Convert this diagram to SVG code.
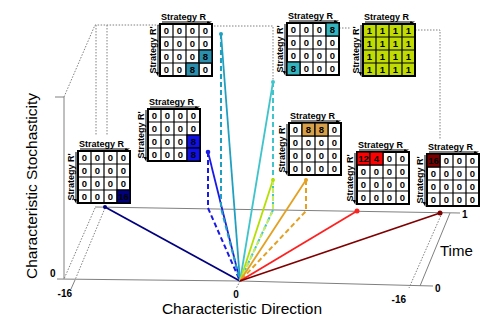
<svg xmlns="http://www.w3.org/2000/svg" xmlns:xlink="http://www.w3.org/1999/xlink" width="498" height="322" viewBox="0 0 498 322">
<style>
.ax{stroke:#808080;stroke-width:1;fill:none}
.dot{stroke:#808080;stroke-width:1;fill:none;stroke-dasharray:1.5,1.5}
.ln{fill:none;stroke-width:1.8}
.ds{fill:none;stroke-width:2;stroke-dasharray:5,3}
.big{font-family:"Liberation Sans",Arial,sans-serif;font-size:15.5px;fill:#000}
.num{font-family:"Liberation Sans",Arial,sans-serif;font-size:10px;font-weight:bold;fill:#000}
.lbl{font-family:"Liberation Sans",Arial,sans-serif;font-size:9px;font-weight:bold;fill:#000}
.c{font-family:"Liberation Sans",Arial,sans-serif;font-size:9.5px;font-weight:bold;fill:#000;text-anchor:middle}
.cell{stroke:#000;stroke-width:1.2}
</style>
<defs>
<g id="mx">
<path d="M2,-2H49" stroke="#000" stroke-width="1"/>
<polygon points="47,-2.5 52,-2.5 47,0.5" fill="#000"/>
<path d="M-2,1V50" stroke="#000" stroke-width="1"/>
<polygon points="-1.5,48 -1.5,53 -4.5,48" fill="#000"/>
<rect x="0" y="0" width="52" height="52" fill="#fff"/>
<path d="M13,0V52M26,0V52M39,0V52M0,13H52M0,26H52M0,39H52" stroke="#000" stroke-width="1.2"/>
<rect x="0" y="0" width="52" height="52" fill="none" stroke="#000" stroke-width="2"/>
</g>
</defs>

<g id="axes">
<path class="ax" d="M55,97H64V279M57,279L240,281L433,286M95,207L460,213M450,213L420,286M75,280L71,289"/>
<path class="dot" d="M64,97L95,25H211M211,26H273V81M339,28H350M415,30H440V139M96,25V136M107,25V136M95,208L64,279M105,208L75,280M442,213L409,288M240,281L236,289"/>
</g>

<g id="connectors">
<path class="ln" stroke="#000080" d="M240,281L105,207"/>
<path class="ln" stroke="#1a1ae6" d="M240,281L208,152"/>
<path class="ds" stroke="#1a1ae6" d="M208,152V208L240,281"/>
<path class="ln" stroke="#20a0c0" d="M240,281L221,34"/>
<path class="ds" stroke="#20a0c0" d="M221,34V208L240,281"/>
<path class="ln" stroke="#40c4cc" d="M240,281L273,82"/>
<path class="ds" stroke="#40c4cc" d="M273,82V210L240,281"/>
<path class="ln" stroke="#b4e000" d="M240,281L273,180"/>
<path class="ds" stroke="#c4ec60" d="M273,180V210L240,281"/>
<path class="ln" stroke="#e4a020" d="M240,281L306,180"/>
<path class="ds" stroke="#e4a020" d="M306,180V211L240,281"/>
<path class="ln" stroke="#ff2020" d="M240,281L357,211"/>
<path class="ln" stroke="#800000" d="M240,281L440,213"/>
<circle cx="105" cy="207" r="2" fill="#000080"/>
<circle cx="208" cy="152" r="2.3" fill="#1a1ae6"/>
<circle cx="221" cy="34" r="2" fill="#20a0c0"/>
<circle cx="273" cy="82" r="2" fill="#40c4cc"/>
<circle cx="273" cy="180" r="2" fill="#b4e000"/>
<circle cx="306" cy="180" r="2" fill="#e4a020"/>
<circle cx="357" cy="211" r="2.5" fill="#ff2020"/>
<circle cx="440" cy="213" r="2.5" fill="#800000"/>
</g>

<g id="m1" transform="translate(78,151)">
<use xlink:href="#mx"/>
<text class="lbl" x="1" y="-4">Strategy R</text>
<text class="lbl" transform="translate(-4,26) rotate(-90)" text-anchor="middle">Strategy R'</text>
<rect class="cell" x="39" y="39" width="13" height="13" fill="#000080"/>
<text class="c" x="6.5" y="10">0</text><text class="c" x="19.5" y="10">0</text><text class="c" x="32.5" y="10">0</text><text class="c" x="45.5" y="10">0</text>
<text class="c" x="6.5" y="23">0</text><text class="c" x="19.5" y="23">0</text><text class="c" x="32.5" y="23">0</text><text class="c" x="45.5" y="23">0</text>
<text class="c" x="6.5" y="36">0</text><text class="c" x="19.5" y="36">0</text><text class="c" x="32.5" y="36">0</text><text class="c" x="45.5" y="36">0</text>
<text class="c" x="6.5" y="49">0</text><text class="c" x="19.5" y="49">0</text><text class="c" x="32.5" y="49">0</text><text class="c" x="45.5" y="49" fill="#2020a0">16</text>
</g>

<g id="m2" transform="translate(148,109)">
<use xlink:href="#mx"/>
<text class="lbl" x="1" y="-4">Strategy R</text>
<text class="lbl" transform="translate(-4,26) rotate(-90)" text-anchor="middle">Strategy R'</text>
<rect class="cell" x="39" y="26" width="13" height="13" fill="#1010e8"/>
<rect class="cell" x="39" y="39" width="13" height="13" fill="#1010e8"/>
<text class="c" x="6.5" y="10">0</text><text class="c" x="19.5" y="10">0</text><text class="c" x="32.5" y="10">0</text><text class="c" x="45.5" y="10">0</text>
<text class="c" x="6.5" y="23">0</text><text class="c" x="19.5" y="23">0</text><text class="c" x="32.5" y="23">0</text><text class="c" x="45.5" y="23">0</text>
<text class="c" x="6.5" y="36">0</text><text class="c" x="19.5" y="36">0</text><text class="c" x="32.5" y="36">0</text><text class="c" x="45.5" y="36">8</text>
<text class="c" x="6.5" y="49">0</text><text class="c" x="19.5" y="49">0</text><text class="c" x="32.5" y="49">0</text><text class="c" x="45.5" y="49">8</text>
</g>

<g id="m3" transform="translate(160,24)">
<use xlink:href="#mx"/>
<text class="lbl" x="1" y="-4">Strategy R</text>
<text class="lbl" transform="translate(-4,26) rotate(-90)" text-anchor="middle">Strategy R'</text>
<rect class="cell" x="39" y="26" width="13" height="13" fill="#2b8fae"/>
<rect class="cell" x="26" y="39" width="13" height="13" fill="#2b8fae"/>
<text class="c" x="6.5" y="10">0</text><text class="c" x="19.5" y="10">0</text><text class="c" x="32.5" y="10">0</text><text class="c" x="45.5" y="10">0</text>
<text class="c" x="6.5" y="23">0</text><text class="c" x="19.5" y="23">0</text><text class="c" x="32.5" y="23">0</text><text class="c" x="45.5" y="23">0</text>
<text class="c" x="6.5" y="36">0</text><text class="c" x="19.5" y="36">0</text><text class="c" x="32.5" y="36">0</text><text class="c" x="45.5" y="36">8</text>
<text class="c" x="6.5" y="49">0</text><text class="c" x="19.5" y="49">0</text><text class="c" x="32.5" y="49">8</text><text class="c" x="45.5" y="49">0</text>
</g>

<g id="m4" transform="translate(289,123)">
<use xlink:href="#mx"/>
<text class="lbl" x="1" y="-4">Strategy R</text>
<text class="lbl" transform="translate(-4,26) rotate(-90)" text-anchor="middle">Strategy R'</text>
<rect class="cell" x="13" y="0" width="13" height="13" fill="#d8a048"/>
<rect class="cell" x="26" y="0" width="13" height="13" fill="#d8a048"/>
<text class="c" x="6.5" y="10">0</text><text class="c" x="19.5" y="10">8</text><text class="c" x="32.5" y="10">8</text><text class="c" x="45.5" y="10">0</text>
<text class="c" x="6.5" y="23">0</text><text class="c" x="19.5" y="23">0</text><text class="c" x="32.5" y="23">0</text><text class="c" x="45.5" y="23">0</text>
<text class="c" x="6.5" y="36">0</text><text class="c" x="19.5" y="36">0</text><text class="c" x="32.5" y="36">0</text><text class="c" x="45.5" y="36">0</text>
<text class="c" x="6.5" y="49">0</text><text class="c" x="19.5" y="49">0</text><text class="c" x="32.5" y="49">0</text><text class="c" x="45.5" y="49">0</text>
</g>

<g id="m5" transform="translate(287,23)">
<use xlink:href="#mx"/>
<text class="lbl" x="1" y="-4">Strategy R</text>
<text class="lbl" transform="translate(-4,26) rotate(-90)" text-anchor="middle">Strategy R'</text>
<rect class="cell" x="39" y="0" width="13" height="13" fill="#33b5c0"/>
<rect class="cell" x="0" y="39" width="13" height="13" fill="#33b5c0"/>
<text class="c" x="6.5" y="10">0</text><text class="c" x="19.5" y="10">0</text><text class="c" x="32.5" y="10">0</text><text class="c" x="45.5" y="10">8</text>
<text class="c" x="6.5" y="23">0</text><text class="c" x="19.5" y="23">0</text><text class="c" x="32.5" y="23">0</text><text class="c" x="45.5" y="23">0</text>
<text class="c" x="6.5" y="36">0</text><text class="c" x="19.5" y="36">0</text><text class="c" x="32.5" y="36">0</text><text class="c" x="45.5" y="36">0</text>
<text class="c" x="6.5" y="49">8</text><text class="c" x="19.5" y="49">0</text><text class="c" x="32.5" y="49">0</text><text class="c" x="45.5" y="49">0</text>
</g>

<g id="m6" transform="translate(363,24)">
<use xlink:href="#mx"/>
<text class="lbl" x="1" y="-4">Strategy R</text>
<text class="lbl" transform="translate(-4,26) rotate(-90)" text-anchor="middle">Strategy R'</text>
<rect x="0" y="0" width="52" height="52" fill="#c0dc00"/>
<path d="M13,0V52M26,0V52M39,0V52M0,13H52M0,26H52M0,39H52" stroke="#000" stroke-width="1.2"/>
<rect x="0" y="0" width="52" height="52" fill="none" stroke="#000" stroke-width="2"/>
<text class="c" x="6.5" y="10">1</text><text class="c" x="19.5" y="10">1</text><text class="c" x="32.5" y="10">1</text><text class="c" x="45.5" y="10">1</text>
<text class="c" x="6.5" y="23">1</text><text class="c" x="19.5" y="23">1</text><text class="c" x="32.5" y="23">1</text><text class="c" x="45.5" y="23">1</text>
<text class="c" x="6.5" y="36">1</text><text class="c" x="19.5" y="36">1</text><text class="c" x="32.5" y="36">1</text><text class="c" x="45.5" y="36">1</text>
<text class="c" x="6.5" y="49">1</text><text class="c" x="19.5" y="49">1</text><text class="c" x="32.5" y="49">1</text><text class="c" x="45.5" y="49">1</text>
</g>

<g id="m7" transform="translate(357,152)">
<use xlink:href="#mx"/>
<text class="lbl" x="1" y="-4">Strategy R</text>
<text class="lbl" transform="translate(-4,26) rotate(-90)" text-anchor="middle">Strategy R'</text>
<rect class="cell" x="0" y="0" width="13" height="13" fill="#ff0000"/>
<rect class="cell" x="13" y="0" width="13" height="13" fill="#ff0000"/>
<text class="c" x="6.5" y="10">12</text><text class="c" x="19.5" y="10">4</text><text class="c" x="32.5" y="10">0</text><text class="c" x="45.5" y="10">0</text>
<text class="c" x="6.5" y="23">0</text><text class="c" x="19.5" y="23">0</text><text class="c" x="32.5" y="23">0</text><text class="c" x="45.5" y="23">0</text>
<text class="c" x="6.5" y="36">0</text><text class="c" x="19.5" y="36">0</text><text class="c" x="32.5" y="36">0</text><text class="c" x="45.5" y="36">0</text>
<text class="c" x="6.5" y="49">0</text><text class="c" x="19.5" y="49">0</text><text class="c" x="32.5" y="49">0</text><text class="c" x="45.5" y="49">0</text>
</g>

<g id="m8" transform="translate(427,154)">
<use xlink:href="#mx"/>
<text class="lbl" x="1" y="-4">Strategy R</text>
<text class="lbl" transform="translate(-4,26) rotate(-90)" text-anchor="middle">Strategy R'</text>
<rect class="cell" x="0" y="0" width="13" height="13" fill="#7a0000"/>
<text class="c" x="6.5" y="10" fill="#400000">16</text><text class="c" x="19.5" y="10">0</text><text class="c" x="32.5" y="10">0</text><text class="c" x="45.5" y="10">0</text>
<text class="c" x="6.5" y="23">0</text><text class="c" x="19.5" y="23">0</text><text class="c" x="32.5" y="23">0</text><text class="c" x="45.5" y="23">0</text>
<text class="c" x="6.5" y="36">0</text><text class="c" x="19.5" y="36">0</text><text class="c" x="32.5" y="36">0</text><text class="c" x="45.5" y="36">0</text>
<text class="c" x="6.5" y="49">0</text><text class="c" x="19.5" y="49">0</text><text class="c" x="32.5" y="49">0</text><text class="c" x="45.5" y="49">0</text>
</g>

<g id="labels">
<text class="big" transform="translate(37,186) rotate(-90)" text-anchor="middle">Characteristic Stochasticity</text>
<text class="big" x="242" y="314" text-anchor="middle">Characteristic Direction</text>
<text class="big" x="440" y="256" style="font-size:15px">Time</text>
<text class="num" x="50" y="277">0</text>
<text class="num" x="72" y="297" text-anchor="end">-16</text>
<text class="num" x="236" y="298" text-anchor="middle">0</text>
<text class="num" x="435" y="292">0</text>
<text class="num" x="462" y="218">1</text>
<text class="num" x="406" y="303" text-anchor="end">-16</text>
</g>
</svg>
